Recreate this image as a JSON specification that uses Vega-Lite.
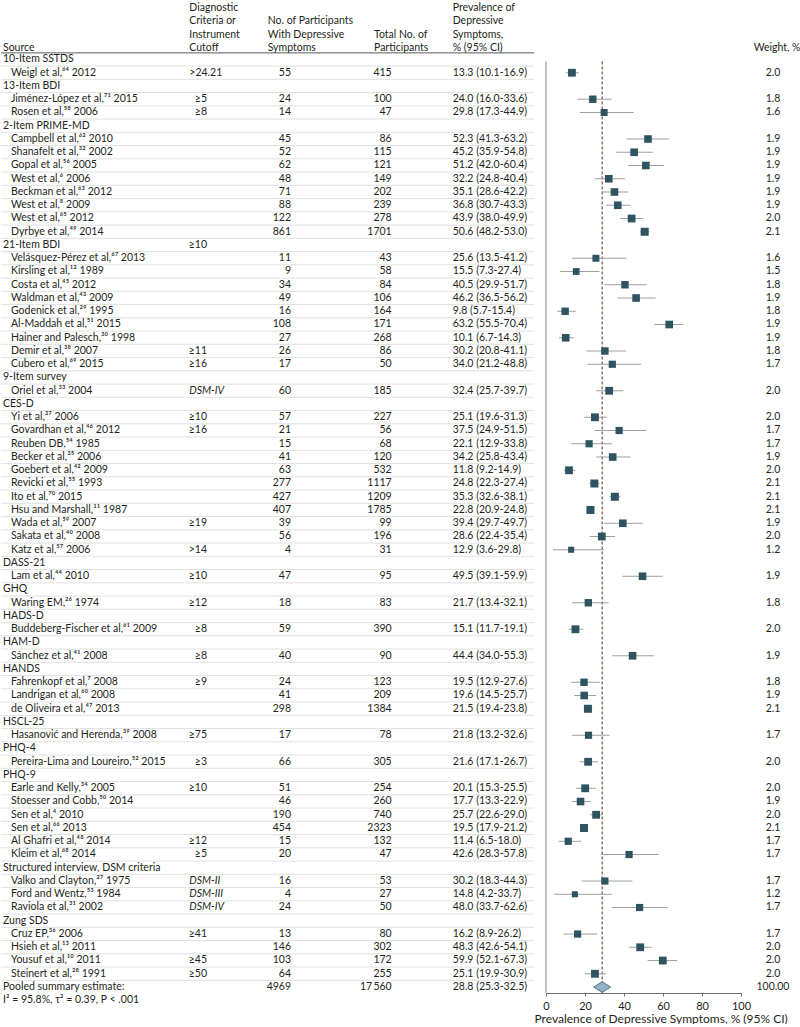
{
  "$schema": "https://vega.github.io/schema/vega-lite/v6.json",
  "padding": 0,
  "background": "white",
  "spacing": 12,
  "bounds": "flush",
  "config": {
    "font": "Lato",
    "view": {"stroke": null},
    "text": {"fontSize": 10.5, "color": "#231f20"},
    "axisX": {"values": [0, 20, 40, 60, 80, 100], "grid": false, "domainColor": "#6d6e71", "tickColor": "#6d6e71", "tickSize": 3, "labelFlush": false, "labelOverlap": false, "labelFontSize": 11, "labelColor": "#231f20", "labelPadding": 4, "titleFontSize": 12, "titleFontWeight": "normal", "titleColor": "#231f20", "titlePadding": 2, "titleX": -12, "titleAlign": "left", "titleAnchor": "start"},
    "locale": {"number": {"decimal": ".", "thousands": "\u2009", "grouping": [3], "currency": ["$", ""]}}
  },
  "datasets": {
    "rows": [
      {"r": 1, "kind": "group", "label": "10-Item SSTDS"},
      {"r": 2, "kind": "study", "label": "Weigl et al,⁶⁴ 2012", "crit": ">24.21", "n": 55, "total": 415, "est": 13.3, "lo": 10.1, "hi": 16.9, "ci": "13.3 (10.1-16.9)", "w": 2.0},
      {"r": 3, "kind": "group", "label": "13-Item BDI"},
      {"r": 4, "kind": "study", "label": "Jiménez-López et al,⁷¹ 2015", "crit": "≥5", "n": 24, "total": 100, "est": 24.0, "lo": 16.0, "hi": 33.6, "ci": "24.0 (16.0-33.6)", "w": 1.8},
      {"r": 5, "kind": "study", "label": "Rosen et al,⁵⁸ 2006", "crit": "≥8", "n": 14, "total": 47, "est": 29.8, "lo": 17.3, "hi": 44.9, "ci": "29.8 (17.3-44.9)", "w": 1.6},
      {"r": 6, "kind": "group", "label": "2-Item PRIME-MD"},
      {"r": 7, "kind": "study", "label": "Campbell et al,⁶² 2010", "n": 45, "total": 86, "est": 52.3, "lo": 41.3, "hi": 63.2, "ci": "52.3 (41.3-63.2)", "w": 1.9},
      {"r": 8, "kind": "study", "label": "Shanafelt et al,³² 2002", "n": 52, "total": 115, "est": 45.2, "lo": 35.9, "hi": 54.8, "ci": "45.2 (35.9-54.8)", "w": 1.9},
      {"r": 9, "kind": "study", "label": "Gopal et al,⁵⁶ 2005", "n": 62, "total": 121, "est": 51.2, "lo": 42.0, "hi": 60.4, "ci": "51.2 (42.0-60.4)", "w": 1.9},
      {"r": 10, "kind": "study", "label": "West et al,⁶ 2006", "n": 48, "total": 149, "est": 32.2, "lo": 24.8, "hi": 40.4, "ci": "32.2 (24.8-40.4)", "w": 1.9},
      {"r": 11, "kind": "study", "label": "Beckman et al,⁶³ 2012", "n": 71, "total": 202, "est": 35.1, "lo": 28.6, "hi": 42.2, "ci": "35.1 (28.6-42.2)", "w": 1.9},
      {"r": 12, "kind": "study", "label": "West et al,⁸ 2009", "n": 88, "total": 239, "est": 36.8, "lo": 30.7, "hi": 43.3, "ci": "36.8 (30.7-43.3)", "w": 1.9},
      {"r": 13, "kind": "study", "label": "West et al,⁶⁵ 2012", "n": 122, "total": 278, "est": 43.9, "lo": 38.0, "hi": 49.9, "ci": "43.9 (38.0-49.9)", "w": 2.0},
      {"r": 14, "kind": "study", "label": "Dyrbye et al,⁴⁹ 2014", "n": 861, "total": 1701, "est": 50.6, "lo": 48.2, "hi": 53.0, "ci": "50.6 (48.2-53.0)", "w": 2.1},
      {"r": 15, "kind": "group", "label": "21-Item BDI", "crit": "≥10"},
      {"r": 16, "kind": "study", "label": "Velásquez-Pérez et al,⁶⁷ 2013", "n": 11, "total": 43, "est": 25.6, "lo": 13.5, "hi": 41.2, "ci": "25.6 (13.5-41.2)", "w": 1.6},
      {"r": 17, "kind": "study", "label": "Kirsling et al,¹² 1989", "n": 9, "total": 58, "est": 15.5, "lo": 7.3, "hi": 27.4, "ci": "15.5 (7.3-27.4)", "w": 1.5},
      {"r": 18, "kind": "study", "label": "Costa et al,⁴⁵ 2012", "n": 34, "total": 84, "est": 40.5, "lo": 29.9, "hi": 51.7, "ci": "40.5 (29.9-51.7)", "w": 1.8},
      {"r": 19, "kind": "study", "label": "Waldman et al,⁴³ 2009", "n": 49, "total": 106, "est": 46.2, "lo": 36.5, "hi": 56.2, "ci": "46.2 (36.5-56.2)", "w": 1.9},
      {"r": 20, "kind": "study", "label": "Godenick et al,²⁹ 1995", "n": 16, "total": 164, "est": 9.8, "lo": 5.7, "hi": 15.4, "ci": "9.8 (5.7-15.4)", "w": 1.8},
      {"r": 21, "kind": "study", "label": "Al-Maddah et al,⁵¹ 2015", "n": 108, "total": 171, "est": 63.2, "lo": 55.5, "hi": 70.4, "ci": "63.2 (55.5-70.4)", "w": 1.9},
      {"r": 22, "kind": "study", "label": "Hainer and Palesch,³⁰ 1998", "n": 27, "total": 268, "est": 10.1, "lo": 6.7, "hi": 14.3, "ci": "10.1 (6.7-14.3)", "w": 1.9},
      {"r": 23, "kind": "study", "label": "Demir et al,³⁸ 2007", "crit": "≥11", "n": 26, "total": 86, "est": 30.2, "lo": 20.8, "hi": 41.1, "ci": "30.2 (20.8-41.1)", "w": 1.8},
      {"r": 24, "kind": "study", "label": "Cubero et al,⁶⁹ 2015", "crit": "≥16", "n": 17, "total": 50, "est": 34.0, "lo": 21.2, "hi": 48.8, "ci": "34.0 (21.2-48.8)", "w": 1.7},
      {"r": 25, "kind": "group", "label": "9-Item survey"},
      {"r": 26, "kind": "study", "label": "Oriel et al,³³ 2004", "crit": "DSM-IV", "n": 60, "total": 185, "est": 32.4, "lo": 25.7, "hi": 39.7, "ci": "32.4 (25.7-39.7)", "w": 2.0},
      {"r": 27, "kind": "group", "label": "CES-D"},
      {"r": 28, "kind": "study", "label": "Yi et al,³⁷ 2006", "crit": "≥10", "n": 57, "total": 227, "est": 25.1, "lo": 19.6, "hi": 31.3, "ci": "25.1 (19.6-31.3)", "w": 2.0},
      {"r": 29, "kind": "study", "label": "Govardhan et al,⁴⁶ 2012", "crit": "≥16", "n": 21, "total": 56, "est": 37.5, "lo": 24.9, "hi": 51.5, "ci": "37.5 (24.9-51.5)", "w": 1.7},
      {"r": 30, "kind": "study", "label": "Reuben DB,⁵⁴ 1985", "n": 15, "total": 68, "est": 22.1, "lo": 12.9, "hi": 33.8, "ci": "22.1 (12.9-33.8)", "w": 1.7},
      {"r": 31, "kind": "study", "label": "Becker et al,³⁵ 2006", "n": 41, "total": 120, "est": 34.2, "lo": 25.8, "hi": 43.4, "ci": "34.2 (25.8-43.4)", "w": 1.9},
      {"r": 32, "kind": "study", "label": "Goebert et al,⁴² 2009", "n": 63, "total": 532, "est": 11.8, "lo": 9.2, "hi": 14.9, "ci": "11.8 (9.2-14.9)", "w": 2.0},
      {"r": 33, "kind": "study", "label": "Revicki et al,⁵⁵ 1993", "n": 277, "total": 1117, "est": 24.8, "lo": 22.3, "hi": 27.4, "ci": "24.8 (22.3-27.4)", "w": 2.1},
      {"r": 34, "kind": "study", "label": "Ito et al,⁷⁰ 2015", "n": 427, "total": 1209, "est": 35.3, "lo": 32.6, "hi": 38.1, "ci": "35.3 (32.6-38.1)", "w": 2.1},
      {"r": 35, "kind": "study", "label": "Hsu and Marshall,¹¹ 1987", "n": 407, "total": 1785, "est": 22.8, "lo": 20.9, "hi": 24.8, "ci": "22.8 (20.9-24.8)", "w": 2.1},
      {"r": 36, "kind": "study", "label": "Wada et al,⁵⁹ 2007", "crit": "≥19", "n": 39, "total": 99, "est": 39.4, "lo": 29.7, "hi": 49.7, "ci": "39.4 (29.7-49.7)", "w": 1.9},
      {"r": 37, "kind": "study", "label": "Sakata et al,⁴⁰ 2008", "n": 56, "total": 196, "est": 28.6, "lo": 22.4, "hi": 35.4, "ci": "28.6 (22.4-35.4)", "w": 2.0},
      {"r": 38, "kind": "study", "label": "Katz et al,⁵⁷ 2006", "crit": ">14", "n": 4, "total": 31, "est": 12.9, "lo": 3.6, "hi": 29.8, "ci": "12.9 (3.6-29.8)", "w": 1.2},
      {"r": 39, "kind": "group", "label": "DASS-21"},
      {"r": 40, "kind": "study", "label": "Lam et al,⁴⁴ 2010", "crit": "≥10", "n": 47, "total": 95, "est": 49.5, "lo": 39.1, "hi": 59.9, "ci": "49.5 (39.1-59.9)", "w": 1.9},
      {"r": 41, "kind": "group", "label": "GHQ"},
      {"r": 42, "kind": "study", "label": "Waring EM,²⁶ 1974", "crit": "≥12", "n": 18, "total": 83, "est": 21.7, "lo": 13.4, "hi": 32.1, "ci": "21.7 (13.4-32.1)", "w": 1.8},
      {"r": 43, "kind": "group", "label": "HADS-D"},
      {"r": 44, "kind": "study", "label": "Buddeberg-Fischer et al,⁶¹ 2009", "crit": "≥8", "n": 59, "total": 390, "est": 15.1, "lo": 11.7, "hi": 19.1, "ci": "15.1 (11.7-19.1)", "w": 2.0},
      {"r": 45, "kind": "group", "label": "HAM-D"},
      {"r": 46, "kind": "study", "label": "Sánchez et al,⁴¹ 2008", "crit": "≥8", "n": 40, "total": 90, "est": 44.4, "lo": 34.0, "hi": 55.3, "ci": "44.4 (34.0-55.3)", "w": 1.9},
      {"r": 47, "kind": "group", "label": "HANDS"},
      {"r": 48, "kind": "study", "label": "Fahrenkopf et al,⁷ 2008", "crit": "≥9", "n": 24, "total": 123, "est": 19.5, "lo": 12.9, "hi": 27.6, "ci": "19.5 (12.9-27.6)", "w": 1.8},
      {"r": 49, "kind": "study", "label": "Landrigan et al,⁶⁰ 2008", "n": 41, "total": 209, "est": 19.6, "lo": 14.5, "hi": 25.7, "ci": "19.6 (14.5-25.7)", "w": 1.9},
      {"r": 50, "kind": "study", "label": "de Oliveira et al,⁴⁷ 2013", "n": 298, "total": 1384, "est": 21.5, "lo": 19.4, "hi": 23.8, "ci": "21.5 (19.4-23.8)", "w": 2.1},
      {"r": 51, "kind": "group", "label": "HSCL-25"},
      {"r": 52, "kind": "study", "label": "Hasanović and Herenda,³⁹ 2008", "crit": "≥75", "n": 17, "total": 78, "est": 21.8, "lo": 13.2, "hi": 32.6, "ci": "21.8 (13.2-32.6)", "w": 1.7},
      {"r": 53, "kind": "group", "label": "PHQ-4"},
      {"r": 54, "kind": "study", "label": "Pereira-Lima and Loureiro,⁵² 2015", "crit": "≥3", "n": 66, "total": 305, "est": 21.6, "lo": 17.1, "hi": 26.7, "ci": "21.6 (17.1-26.7)", "w": 2.0},
      {"r": 55, "kind": "group", "label": "PHQ-9"},
      {"r": 56, "kind": "study", "label": "Earle and Kelly,³⁴ 2005", "crit": "≥10", "n": 51, "total": 254, "est": 20.1, "lo": 15.3, "hi": 25.5, "ci": "20.1 (15.3-25.5)", "w": 2.0},
      {"r": 57, "kind": "study", "label": "Stoesser and Cobb,⁵⁰ 2014", "n": 46, "total": 260, "est": 17.7, "lo": 13.3, "hi": 22.9, "ci": "17.7 (13.3-22.9)", "w": 1.9},
      {"r": 58, "kind": "study", "label": "Sen et al,⁴ 2010", "n": 190, "total": 740, "est": 25.7, "lo": 22.6, "hi": 29.0, "ci": "25.7 (22.6-29.0)", "w": 2.0},
      {"r": 59, "kind": "study", "label": "Sen et al,⁶⁶ 2013", "n": 454, "total": 2323, "est": 19.5, "lo": 17.9, "hi": 21.2, "ci": "19.5 (17.9-21.2)", "w": 2.1},
      {"r": 60, "kind": "study", "label": "Al Ghafri et al,⁴⁸ 2014", "crit": "≥12", "n": 15, "total": 132, "est": 11.4, "lo": 6.5, "hi": 18.0, "ci": "11.4 (6.5-18.0)", "w": 1.7},
      {"r": 61, "kind": "study", "label": "Kleim et al,⁶⁸ 2014", "crit": "≥5", "n": 20, "total": 47, "est": 42.6, "lo": 28.3, "hi": 57.8, "ci": "42.6 (28.3-57.8)", "w": 1.7},
      {"r": 62, "kind": "group", "label": "Structured interview, DSM criteria"},
      {"r": 63, "kind": "study", "label": "Valko and Clayton,²⁷ 1975", "crit": "DSM-II", "n": 16, "total": 53, "est": 30.2, "lo": 18.3, "hi": 44.3, "ci": "30.2 (18.3-44.3)", "w": 1.7},
      {"r": 64, "kind": "study", "label": "Ford and Wentz,⁵³ 1984", "crit": "DSM-III", "n": 4, "total": 27, "est": 14.8, "lo": 4.2, "hi": 33.7, "ci": "14.8 (4.2-33.7)", "w": 1.2},
      {"r": 65, "kind": "study", "label": "Raviola et al,³¹ 2002", "crit": "DSM-IV", "n": 24, "total": 50, "est": 48.0, "lo": 33.7, "hi": 62.6, "ci": "48.0 (33.7-62.6)", "w": 1.7},
      {"r": 66, "kind": "group", "label": "Zung SDS"},
      {"r": 67, "kind": "study", "label": "Cruz EP,³⁶ 2006", "crit": "≥41", "n": 13, "total": 80, "est": 16.2, "lo": 8.9, "hi": 26.2, "ci": "16.2 (8.9-26.2)", "w": 1.7},
      {"r": 68, "kind": "study", "label": "Hsieh et al,¹³ 2011", "n": 146, "total": 302, "est": 48.3, "lo": 42.6, "hi": 54.1, "ci": "48.3 (42.6-54.1)", "w": 2.0},
      {"r": 69, "kind": "study", "label": "Yousuf et al,¹⁰ 2011", "crit": "≥45", "n": 103, "total": 172, "est": 59.9, "lo": 52.1, "hi": 67.3, "ci": "59.9 (52.1-67.3)", "w": 2.0},
      {"r": 70, "kind": "study", "label": "Steinert et al,²⁸ 1991", "crit": "≥50", "n": 64, "total": 255, "est": 25.1, "lo": 19.9, "hi": 30.9, "ci": "25.1 (19.9-30.9)", "w": 2.0},
      {"r": 71, "kind": "pooled", "label": "Pooled summary estimate:", "n": 4969, "total": 17560, "est": 28.8, "lo": 25.3, "hi": 32.5, "ci": "28.8 (25.3-32.5)", "w": 100},
      {"r": 72, "kind": "note", "label": "I² = 95.8%, τ² = 0.39, P < .001"}
    ]
  },
  "hconcat": [
    {
      "width": 533,
      "height": 1010,
      "data": {"name": "rows"},
      "layer": [
        {
          "data": {"values": [{}]},
          "mark": {"type": "rule", "color": "#58595b", "strokeWidth": 1},
          "encoding": {
            "x": {"datum": 0, "type": "quantitative", "scale": {"domain": [0, 533], "nice": false, "zero": false}, "axis": null},
            "x2": {"datum": 533},
            "y": {"datum": 0.5, "type": "quantitative", "scale": {"domain": [-3.49, 72.74], "reverse": true, "nice": false, "zero": false}, "axis": null}
          }
        },
        {
          "transform": [{"filter": "datum.r <= 70"}],
          "mark": {"type": "rule", "color": "#d9d9d9", "strokeWidth": 0.8, "yOffset": 6.6},
          "encoding": {
            "x": {"datum": 0, "type": "quantitative", "axis": null},
            "x2": {"datum": 533},
            "y": {"field": "r", "type": "quantitative", "axis": null}
          }
        },
        {
          "data": {"values": [{}]},
          "mark": {"type": "text", "text": ["Source"], "align": "left", "baseline": "top", "lineHeight": 13.25},
          "encoding": {"x": {"datum": 2, "type": "quantitative", "axis": null}, "y": {"datum": -0.26, "type": "quantitative", "axis": null}}
        },
        {
          "data": {"values": [{}]},
          "mark": {"type": "text", "text": ["Diagnostic", "Criteria or", "Instrument", "Cutoff"], "align": "left", "baseline": "top", "lineHeight": 13.25},
          "encoding": {"x": {"datum": 188.3, "type": "quantitative", "axis": null}, "y": {"datum": -3.26, "type": "quantitative", "axis": null}}
        },
        {
          "data": {"values": [{}]},
          "mark": {"type": "text", "text": ["No. of Participants", "With Depressive", "Symptoms"], "align": "left", "baseline": "top", "lineHeight": 13.25},
          "encoding": {"x": {"datum": 266.7, "type": "quantitative", "axis": null}, "y": {"datum": -2.26, "type": "quantitative", "axis": null}}
        },
        {
          "data": {"values": [{}]},
          "mark": {"type": "text", "text": ["Total No. of", "Participants"], "align": "left", "baseline": "top", "lineHeight": 13.25},
          "encoding": {"x": {"datum": 373, "type": "quantitative", "axis": null}, "y": {"datum": -1.26, "type": "quantitative", "axis": null}}
        },
        {
          "data": {"values": [{}]},
          "mark": {"type": "text", "text": ["Prevalence of", "Depressive", "Symptoms,", "% (95% CI)"], "align": "left", "baseline": "top", "lineHeight": 13.25},
          "encoding": {"x": {"datum": 451.7, "type": "quantitative", "axis": null}, "y": {"datum": -3.26, "type": "quantitative", "axis": null}}
        },
        {
          "transform": [{"filter": "datum.kind != 'study'"}],
          "mark": {"type": "text", "align": "left", "baseline": "middle"},
          "encoding": {"x": {"datum": 2, "type": "quantitative", "axis": null}, "y": {"field": "r", "type": "quantitative", "axis": null}, "text": {"field": "label"}}
        },
        {
          "transform": [{"filter": "datum.kind == 'study'"}],
          "mark": {"type": "text", "align": "left", "baseline": "middle"},
          "encoding": {"x": {"datum": 10, "type": "quantitative", "axis": null}, "y": {"field": "r", "type": "quantitative", "axis": null}, "text": {"field": "label"}}
        },
        {
          "transform": [{"filter": "isValid(datum.crit) && length(datum.crit) <= 3"}],
          "mark": {"type": "text", "align": "right", "baseline": "middle"},
          "encoding": {"x": {"datum": 206, "type": "quantitative", "axis": null}, "y": {"field": "r", "type": "quantitative", "axis": null}, "text": {"field": "crit"}}
        },
        {
          "transform": [{"filter": "isValid(datum.crit) && length(datum.crit) > 3 && indexof(datum.crit, 'DSM') < 0"}],
          "mark": {"type": "text", "align": "left", "baseline": "middle"},
          "encoding": {"x": {"datum": 188.3, "type": "quantitative", "axis": null}, "y": {"field": "r", "type": "quantitative", "axis": null}, "text": {"field": "crit"}}
        },
        {
          "transform": [{"filter": "isValid(datum.crit) && indexof(datum.crit, 'DSM') == 0"}],
          "mark": {"type": "text", "align": "left", "baseline": "middle", "fontStyle": "italic"},
          "encoding": {"x": {"datum": 188.3, "type": "quantitative", "axis": null}, "y": {"field": "r", "type": "quantitative", "axis": null}, "text": {"field": "crit"}}
        },
        {
          "transform": [{"filter": "isValid(datum.n)"}],
          "mark": {"type": "text", "align": "right", "baseline": "middle"},
          "encoding": {"x": {"datum": 290, "type": "quantitative", "axis": null}, "y": {"field": "r", "type": "quantitative", "axis": null}, "text": {"field": "n", "type": "quantitative", "format": "d"}}
        },
        {
          "transform": [{"filter": "datum.kind == 'study'"}],
          "mark": {"type": "text", "align": "right", "baseline": "middle"},
          "encoding": {"x": {"datum": 390.7, "type": "quantitative", "axis": null}, "y": {"field": "r", "type": "quantitative", "axis": null}, "text": {"field": "total", "type": "quantitative", "format": "d"}}
        },
        {
          "transform": [{"filter": "datum.kind == 'pooled'"}],
          "mark": {"type": "text", "align": "right", "baseline": "middle"},
          "encoding": {"x": {"datum": 390.7, "type": "quantitative", "axis": null}, "y": {"field": "r", "type": "quantitative", "axis": null}, "text": {"field": "total", "type": "quantitative", "format": ",d"}}
        },
        {
          "transform": [{"filter": "isValid(datum.ci)"}],
          "mark": {"type": "text", "align": "left", "baseline": "middle"},
          "encoding": {"x": {"datum": 451.7, "type": "quantitative", "axis": null}, "y": {"field": "r", "type": "quantitative", "axis": null}, "text": {"field": "ci"}}
        }
      ]
    },
    {
      "width": 195,
      "height": 993,
      "data": {"name": "rows"},
      "layer": [
        {
          "data": {"values": [{}]},
          "mark": {"type": "rule", "color": "#808285", "strokeWidth": 1},
          "encoding": {
            "x": {"datum": 0, "type": "quantitative", "scale": {"domain": [0, 100], "nice": false, "zero": false}, "title": "Prevalence of Depressive Symptoms, % (95% CI)"},
            "y": {"datum": 1.15, "type": "quantitative", "scale": {"domain": [-3.49, 71.45], "reverse": true, "nice": false, "zero": false}, "axis": null},
            "y2": {"datum": 71.45}
          }
        },
        {
          "transform": [{"filter": "datum.kind == 'pooled'"}],
          "mark": {"type": "rule", "color": "#5c2d1e", "strokeWidth": 1, "strokeDash": [3, 2]},
          "encoding": {
            "x": {"field": "est", "type": "quantitative", "title": "Prevalence of Depressive Symptoms, % (95% CI)"},
            "y": {"datum": 1.15, "type": "quantitative", "axis": null},
            "y2": {"datum": 71.45}
          }
        },
        {
          "transform": [{"filter": "datum.kind == 'study'"}],
          "mark": {"type": "rule", "color": "#9d9fa2", "strokeWidth": 1},
          "encoding": {
            "x": {"field": "lo", "type": "quantitative", "title": "Prevalence of Depressive Symptoms, % (95% CI)"},
            "x2": {"field": "hi"},
            "y": {"field": "r", "type": "quantitative", "axis": null}
          }
        },
        {
          "transform": [{"filter": "datum.kind == 'study'"}],
          "mark": {"type": "square", "filled": true, "color": "#2e5361", "opacity": 1},
          "encoding": {
            "x": {"field": "est", "type": "quantitative", "title": "Prevalence of Depressive Symptoms, % (95% CI)"},
            "y": {"field": "r", "type": "quantitative", "axis": null},
            "size": {"field": "w", "type": "quantitative", "scale": {"domain": [0, 2.1], "range": [0, 64]}, "legend": null}
          }
        },
        {
          "transform": [{"filter": "datum.kind == 'pooled'"}],
          "mark": {"type": "point", "shape": "M-1,0L0,-0.64L1,0L0,0.64Z", "filled": true, "fill": "#94b3c4", "stroke": "#4f6f80", "strokeWidth": 1, "size": 280, "opacity": 1},
          "encoding": {
            "x": {"field": "est", "type": "quantitative", "title": "Prevalence of Depressive Symptoms, % (95% CI)"},
            "y": {"field": "r", "type": "quantitative", "axis": null}
          }
        }
      ]
    },
    {
      "width": 48,
      "height": 1010,
      "data": {"name": "rows"},
      "layer": [
        {
          "data": {"values": [{}]},
          "mark": {"type": "text", "text": ["Weight, %"], "align": "right", "baseline": "top", "lineHeight": 13.25},
          "encoding": {
            "x": {"datum": 47.5, "type": "quantitative", "scale": {"domain": [0, 48], "nice": false, "zero": false}, "axis": null},
            "y": {"datum": -0.26, "type": "quantitative", "scale": {"domain": [-3.49, 72.74], "reverse": true, "nice": false, "zero": false}, "axis": null}
          }
        },
        {
          "transform": [{"filter": "datum.kind == 'study'"}],
          "mark": {"type": "text", "align": "center", "baseline": "middle"},
          "encoding": {"x": {"datum": 20, "type": "quantitative", "axis": null}, "y": {"field": "r", "type": "quantitative", "axis": null}, "text": {"field": "w", "type": "quantitative", "format": ".1f"}}
        },
        {
          "transform": [{"filter": "datum.kind == 'pooled'"}],
          "mark": {"type": "text", "align": "center", "baseline": "middle"},
          "encoding": {"x": {"datum": 20, "type": "quantitative", "axis": null}, "y": {"field": "r", "type": "quantitative", "axis": null}, "text": {"field": "w", "type": "quantitative", "format": ".2f"}}
        }
      ]
    }
  ]
}
